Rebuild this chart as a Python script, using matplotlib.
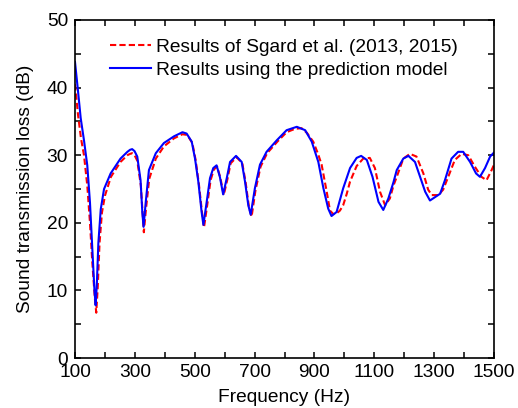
import matplotlib.pyplot as plt
from matplotlib.ticker import MultipleLocator

plt.rcParams['font.family'] = ['Liberation Sans', 'DejaVu Sans']

# Results of Sgard et al.
f_sgard = [100, 110, 120, 130, 141, 150, 158, 166, 171, 176, 182, 190, 200, 220,
           252, 275, 284, 291, 299, 308, 320, 330, 337, 348, 370, 397, 431, 459, 475, 492,
           503, 514, 525, 531, 542, 553, 564, 575, 586, 597, 609, 620, 640, 659,
           670, 681, 690, 703, 720, 742, 776, 807, 835, 857, 875, 896, 912, 924,
           941, 952, 963, 974, 985, 996, 1008, 1019, 1041, 1063, 1085, 1102, 1119,
           1136, 1152, 1164, 1175, 1197, 1219, 1241, 1264, 1280, 1292, 1314, 1330,
           1347, 1369, 1392, 1414, 1436, 1458, 1475, 1492, 1500]
tl_sgard = [40.5, 36.0, 32.5, 30.0, 25.5, 20.0, 14.0, 9.0, 6.7, 10.5, 17.0, 21.5,
            24.0, 26.8, 29.0, 30.0, 30.2, 30.3, 30.0, 29.2, 25.5, 18.6, 22.0, 26.5, 29.5, 31.3,
            32.5, 33.1, 33.0, 31.8, 29.3, 25.7, 21.3, 19.3, 22.7, 26.3, 27.9, 28.3,
            26.6, 24.1, 26.4, 28.8, 29.7, 28.8, 26.0, 22.4, 20.9, 24.8, 28.3, 30.3,
            32.0, 33.4, 33.9, 34.0, 33.3, 32.0, 30.2, 28.6, 24.6, 21.8, 21.3, 21.4,
            21.8, 22.6, 24.3, 26.1, 28.4, 29.5, 29.6, 28.1, 24.6, 22.6, 23.6, 25.5,
            26.8, 29.5, 30.2, 29.8, 27.3, 24.9, 24.1, 24.1, 24.9, 26.8, 29.3, 30.2,
            30.0, 28.3, 26.8, 26.3, 27.8, 28.6]

# Results of the prediction model
f_model = [100, 110, 119, 130, 141, 150, 158, 165, 169, 173, 178, 186, 197, 219,
           252, 275, 284, 291, 299, 308, 319, 325, 329, 336, 347, 370, 397, 431, 459, 473,
           490, 501, 512, 523, 529, 540, 551, 562, 573, 584, 595, 607, 618, 638,
           657, 668, 679, 687, 701, 718, 740, 774, 807, 841, 869, 891, 913, 930,
           946, 957, 974, 996, 1019, 1041, 1056, 1075, 1094, 1114, 1130, 1147,
           1164, 1175, 1197, 1214, 1236, 1253, 1270, 1286, 1303, 1320, 1336, 1358,
           1380, 1397, 1420, 1440, 1453, 1470, 1487, 1500]
tl_model = [43.8, 39.5, 35.5, 32.2, 28.5, 23.0, 16.0, 10.0, 7.8, 11.0, 17.0, 22.0,
            25.0, 27.3, 29.5, 30.5, 30.8, 30.9, 30.6, 29.8, 26.3, 21.5, 19.4, 22.9, 27.8, 30.3,
            31.8, 32.8, 33.4, 33.2, 32.0, 29.5, 26.1, 21.6, 19.7, 23.1, 26.6, 28.1,
            28.5, 26.8, 24.2, 26.6, 29.0, 29.9, 29.0, 26.1, 22.6, 21.2, 25.1, 28.6,
            30.5, 32.2, 33.7, 34.2, 33.7, 32.0, 29.0, 25.1, 22.1, 21.0, 21.6, 25.1,
            28.1, 29.6, 29.9, 29.3, 26.8, 23.1, 21.9, 23.6, 26.0, 27.8, 29.5, 29.9,
            29.0, 26.8, 24.6, 23.3, 23.8, 24.3, 26.3, 29.5, 30.5, 30.5, 29.0, 27.3,
            26.8, 28.1, 29.8, 30.4]

fig = plt.figure(figsize=(5.18, 4.08), dpi=100)
ax = fig.add_axes([0.1448, 0.1225, 0.8089, 0.8285])

ax.plot(f_sgard, tl_sgard, color='#ff0000', lw=1.5, ls=(0, (3, 1.5)),
        label='Results of Sgard et al. (2013, 2015)')
ax.plot(f_model, tl_model, color='#0000ff', lw=1.5, solid_joinstyle='round',
        label='Results using the prediction model')

ax.set_xlim(100, 1500)
ax.set_ylim(0, 50)
ax.set_xticks(range(100, 1501, 200))
ax.xaxis.set_minor_locator(MultipleLocator(100))
ax.yaxis.set_major_locator(MultipleLocator(10))
ax.yaxis.set_minor_locator(MultipleLocator(5))
ax.tick_params(which='both', direction='in', top=True, right=True,
               length=4, width=1.1, labelsize=13.8)
ax.tick_params(axis='x', which='both', pad=4)
ax.tick_params(axis='y', which='both', pad=5)
for s in ax.spines.values():
    s.set_linewidth(1.2)

ax.set_xlabel('Frequency (Hz)', fontsize=13.8, labelpad=6)
ax.set_ylabel('Sound transmission loss (dB)', fontsize=13.8, labelpad=9)

ax.legend(loc='upper left', bbox_to_anchor=(0.055, 0.979), frameon=False,
          fontsize=13.8, handlelength=2.15, handletextpad=0.27, labelspacing=0.3,
          borderaxespad=0.2)

fig.savefig('out.png', dpi=100)
